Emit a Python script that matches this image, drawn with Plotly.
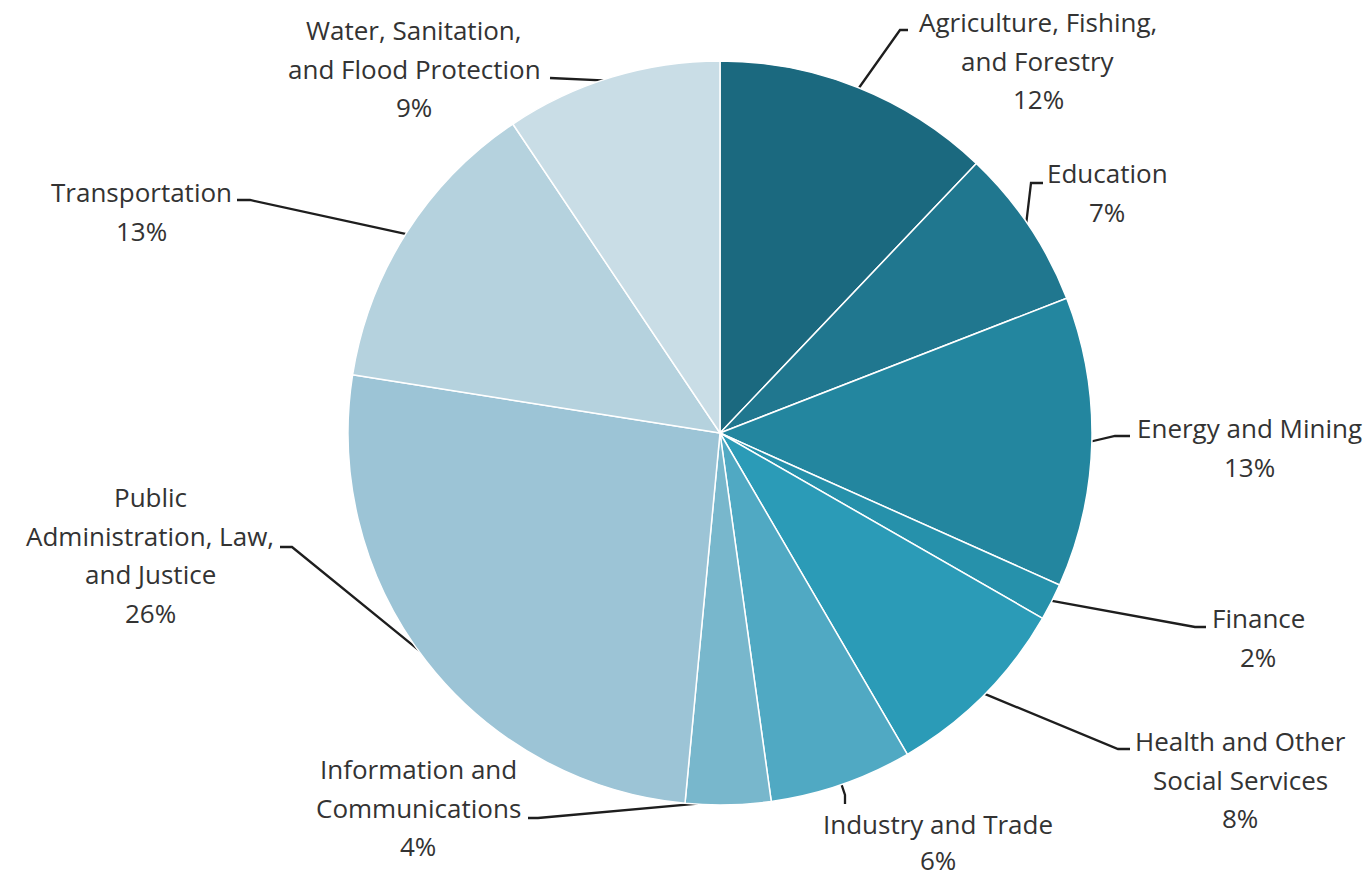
import math
import plotly.graph_objects as go

# ---------------- data ----------------
categories = [
    "Agriculture, Fishing,<br>and Forestry",
    "Education",
    "Energy and Mining",
    "Finance",
    "Health and Other<br>Social Services",
    "Industry and Trade",
    "Information and<br>Communications",
    "Public<br>Administration, Law,<br>and Justice",
    "Transportation",
    "Water, Sanitation,<br>and Flood Protection",
]
values = [12.1, 7.0, 12.6, 1.6, 8.3, 6.2, 3.7, 26.0, 13.1, 9.4]
colors = ["#1b697f", "#20778f", "#23869f", "#2691ab", "#2b9bb7",
          "#50a9c3", "#78b7cc", "#9cc4d6", "#b5d2de", "#c9dde6"]

# ---------------- layout constants (pixels) ----------------
W, H = 1371, 882
CX, CY, R = 720, 433, 372
# label centre x and first-line centre y for each slice
label_x = [1038, 1107, 1249, 1258, 1240, 938, 418, 150, 141, 414]
label_y = [22, 173, 428, 618, 741, 824, 769, 497, 192, 30]
LINE_GAP = [38.5, 38.5, 38.5, 38.5, 38.5, 36.0, 38.5, 38.5, 38.5, 38.5]
# leader elbow (x, y) and end point
elbow = [(900, 30), (1031, 183), (1115, 436), (1195, 627), (1118, 749),
         (845, 795), (538, 818), (292, 547), (250, 200), (555, 78)]
end_x = [908, 1043, 1130, 1206, 1130, 845, 528, 280, 237, 550]
end_y = [30, 183, 436, 627, 749, 804, 818, 547, 200, 78]

FONT = "Open Sans"
TXT = "#333333"

fig = go.Figure()

fig.add_trace(go.Pie(
    labels=categories,
    values=values,
    sort=False,
    direction="clockwise",
    rotation=0,
    marker=dict(colors=colors, line=dict(color="white", width=1.5)),
    textinfo="none",
    hoverinfo="label+percent",
    showlegend=False,
    domain=dict(x=[(CX - R) / W, (CX + R) / W],
                y=[(H - CY - R) / H, (H - CY + R) / H]),
))

total = sum(values)
cum = 0.0
annotations = []
for i, (lab, v) in enumerate(zip(categories, values)):
    mid = (cum + v / 2) / total
    cum += v
    ang = 2 * math.pi * mid
    rs = R - 4
    sx = CX + rs * math.sin(ang)
    sy = CY - rs * math.cos(ang)
    ex, ey = elbow[i]
    fig.add_trace(go.Scatter(
        x=[sx, ex, end_x[i]], y=[sy, ey, end_y[i]],
        mode="lines", line=dict(color="#1e1e1e", width=2.3),
        hoverinfo="skip", showlegend=False,
    ))
    pct = f"{round(v / total * 100)}%"
    lines = lab.split("<br>") + [pct]
    for k, t in enumerate(lines):
        annotations.append(dict(
            x=label_x[i], y=label_y[i] + k * LINE_GAP[i],
            xref="x", yref="y", text=t, showarrow=False,
            xanchor="center", yanchor="middle",
            font=dict(family=FONT, size=26, color=TXT),
        ))

fig.update_layout(
    width=W, height=H,
    margin=dict(l=0, r=0, t=0, b=0),
    paper_bgcolor="white", plot_bgcolor="rgba(0,0,0,0)",
    xaxis=dict(range=[0, W], visible=False, domain=[0, 1], fixedrange=True),
    yaxis=dict(range=[H, 0], visible=False, domain=[0, 1], fixedrange=True),
    annotations=annotations,
    showlegend=False,
)

fig.write_html(
    "out.html",
    config={"displayModeBar": False},
    post_script="document.body.style.margin='0px';document.body.style.overflow='hidden';",
)
